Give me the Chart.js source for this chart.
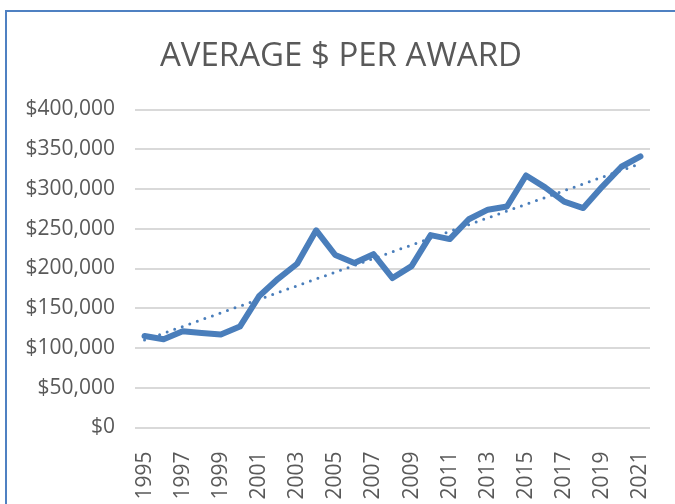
<!DOCTYPE html>
<html>
<head>
<meta charset="utf-8">
<script src="https://cdn.jsdelivr.net/npm/chart.js@4"></script>
<style>
  html, body { margin: 0; padding: 0; background: #ffffff; }
  #wrap { position: relative; width: 675px; height: 504px; overflow: hidden; }
  #frame { position: absolute; left: 5px; top: 10px; width: 700px; height: 520px;
           border-left: 2.5px solid #4f81c2; border-top: 2.5px solid #4f81c2; box-sizing: border-box; }
  canvas { position: absolute; left: 0; top: 0; }
  #title { position: absolute; left: 0; width: 682px; top: 31px; line-height: 45px; text-align: center;
           font-family: "Open Sans"; font-size: 33px; color: #595959; white-space: nowrap; z-index: 2; }
</style>
</head>
<body>
<div id="wrap">
  <div id="frame"></div>
  <canvas id="c" width="675" height="504"></canvas>
  <div id="title">AVERAGE $ PER AWARD</div>
</div>
<script>
const years = ['1995','1996','1997','1998','1999','2000','2001','2002','2003','2004','2005','2006','2007','2008','2009','2010','2011','2012','2013','2014','2015','2016','2017','2018','2019','2020','2021'];
const avgPerAward = [115000,111000,121000,119000,117000,127000,165000,187000,206000,248000,217000,207000,218000,188000,203000,242000,237000,262000,274000,278000,317000,302000,284000,276000,303000,328000,341000];
const trendStart = 110000;
const trendEnd = 332000;
const trend = years.map((y, i) => i === 0 ? trendStart : (i === years.length - 1 ? trendEnd : null));
const yTicks = [0, 50000, 100000, 150000, 200000, 250000, 300000, 350000, 400000];
const xTickLabels = years.filter((y, i) => i % 2 === 0);

const grey = '#595959';
new Chart(document.getElementById('c'), {
  type: 'line',
  data: {
    labels: years,
    datasets: [
      {
        label: 'Average $ per award',
        data: avgPerAward,
        borderColor: '#4a7ebb',
        borderWidth: 6,
        pointRadius: 0,
        tension: 0,
        borderJoinStyle: 'round',
        borderCapStyle: 'round',
        order: 1
      },
      {
        label: 'Linear trend',
        data: trend,
        spanGaps: true,
        borderColor: '#4a7ebb',
        borderWidth: 3,
        borderDash: [0, 8],
        borderCapStyle: 'round',
        pointRadius: 0,
        tension: 0,
        order: 2
      }
    ]
  },
  options: {
    responsive: false,
    animation: false,
    layout: { padding: { left: 0, right: 25, top: 109.5, bottom: 0 } },
    plugins: {
      legend: { display: false },
      tooltip: { enabled: false },
      title: { display: false }
    },
    scales: {
      x: {
        offset: true,
        grid: { display: false },
        border: { display: false },
        ticks: {
          color: grey,
          font: { family: '"Open Sans"', size: 21 },
          maxRotation: 90,
          minRotation: 90,
          autoSkip: false,
          padding: 16,
          callback: function(v, i) { const l = years[i]; return xTickLabels.includes(l) ? l : ''; }
        },
        afterFit: function(s) { s.height = 504 - 427.5; s.paddingRight = 0; s.paddingLeft = 0; }
      },
      y: {
        min: 0,
        max: 400000,
        afterBuildTicks: function(s) { s.ticks = yTicks.map(v => ({ value: v })); },
        grid: { color: '#d9d9d9', lineWidth: 2, drawTicks: false },
        border: { display: false },
        ticks: {
          color: grey,
          font: { family: '"Open Sans"', size: 21 },
          padding: 20,
          callback: v => '$' + v.toLocaleString('en-US')
        },
        afterFit: function(s) { s.width = 135; s.paddingTop = 0; s.paddingBottom = 0; }
      }
    }
  }
});
</script>
</body>
</html>
